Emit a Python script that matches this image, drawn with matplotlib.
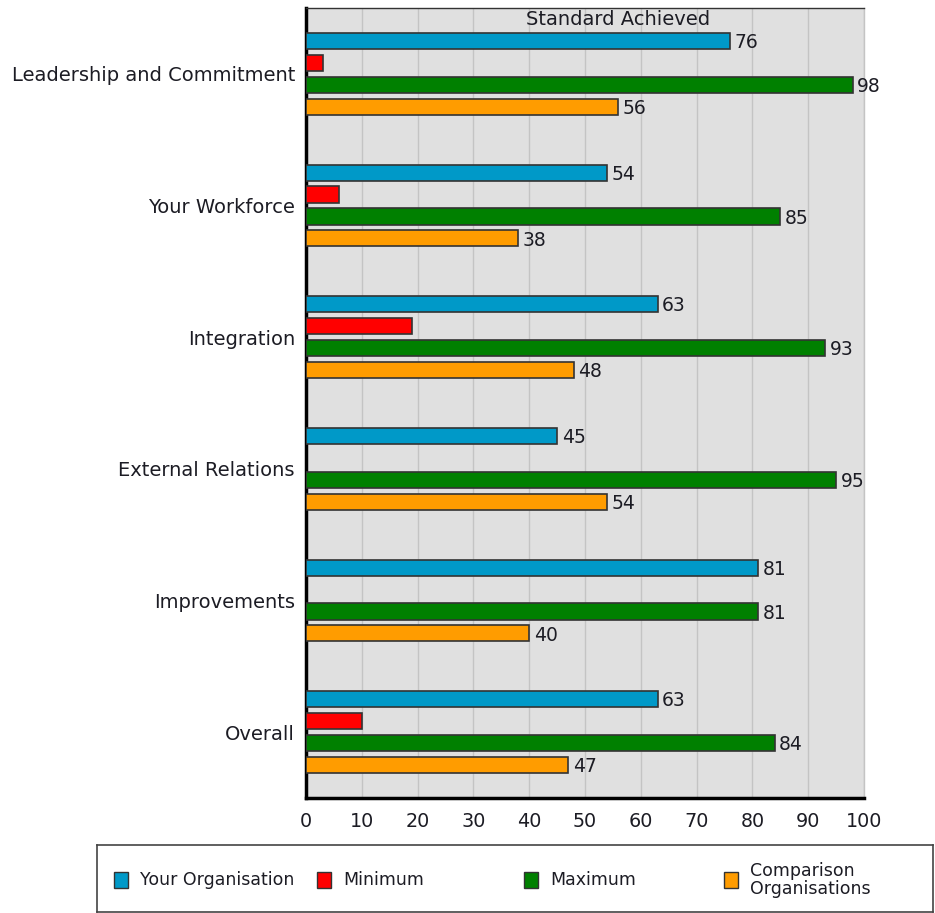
import matplotlib
matplotlib.use("Agg")
import matplotlib.pyplot as plt
from matplotlib.patches import Rectangle
import numpy as np

categories = ["Leadership and Commitment", "Your Workforce", "Integration",
              "External Relations", "Improvements", "Overall"]
series_names = ["Your Organisation", "Minimum", "Maximum", "Comparison\nOrganisations"]
your_org = [76, 54, 63, 45, 81, 63]
minimum = [3, 6, 19, 0, 0, 10]
maximum = [98, 85, 93, 95, 81, 84]
comparison = [56, 38, 48, 54, 40, 47]
show_label = [True, False, True, True]
colors = ["#0099c8", "#ff0000", "#008000", "#ff9c00"]
x_ticks = list(range(0, 101, 10))
title = "Standard Achieved"

plt.rcParams["font.family"] = ["DejaVu Sans"]
text_color = "#1c1c24"

fig = plt.figure(figsize=(9.35, 9.13), dpi=100)
ax = fig.add_axes([306 / 935, 1 - 798 / 913, 558 / 935, 790 / 913])
ax.set_facecolor("#e0e0e0")

values = [your_org, minimum, maximum, comparison]
y = np.arange(len(categories))
bar_h = 0.122
step = 0.1667
offsets = [-1.5 * step, -0.5 * step, 0.5 * step, 1.5 * step]

for vals, col, off, lab in zip(values, colors, offsets, show_label):
    pos = y + off
    bars = ax.barh(pos, vals, height=bar_h, color=col, edgecolor="#333333",
                   linewidth=1.2, zorder=3)
    for b, v in zip(bars, vals):
        if v == 0:
            b.set_visible(False)
            continue
        if lab:
            ax.text(v + 0.8, b.get_y() + b.get_height() / 2 + 0.012, f"{v}",
                    va="center", ha="left", fontsize=13.5, color=text_color,
                    zorder=4)

ax.set_xlim(0, 100)
ax.set_ylim(len(categories) - 0.5, -0.5)
ax.set_yticks(y)
ax.set_yticklabels(categories, fontsize=14, color=text_color)
ax.set_xticks(x_ticks)
ax.set_xticklabels([str(t) for t in x_ticks], fontsize=13.8, color=text_color)
ax.tick_params(axis="both", length=0)
ax.tick_params(axis="y", pad=8)
ax.tick_params(axis="x", pad=10)
ax.grid(axis="x", color="#c4c4c4", linewidth=1.0, zorder=0)
ax.set_axisbelow(True)

ax.spines["left"].set_linewidth(2.5)
ax.spines["left"].set_color("black")
ax.spines["bottom"].set_linewidth(2.5)
ax.spines["bottom"].set_color("black")
ax.spines["top"].set_linewidth(1.0)
ax.spines["top"].set_color("#333333")
ax.spines["right"].set_linewidth(1.0)
ax.spines["right"].set_color("#c4c4c4")

ax.text(0.56, 0.985, title, transform=ax.transAxes, ha="center", va="center",
        fontsize=14, color=text_color)

# Legend panel
lax = fig.add_axes([97 / 935, 1 - 912 / 913, 836 / 935, 67 / 913])
lax.set_xlim(0, 836)
lax.set_ylim(67, 0)
lax.set_xticks([])
lax.set_yticks([])
for s in lax.spines.values():
    s.set_color("#444444")
    s.set_linewidth(1.2)
item_x = [17, 220, 427, 627]
for xi, col, name in zip(item_x, colors, series_names):
    lax.add_patch(Rectangle((xi, 27), 14, 16, facecolor=col, edgecolor="#333333",
                            linewidth=1.0))
    lax.text(xi + 26, 35, name, ha="left", va="center", fontsize=12.5,
             color=text_color, linespacing=1.05)

fig.savefig("out.png", dpi=100)
